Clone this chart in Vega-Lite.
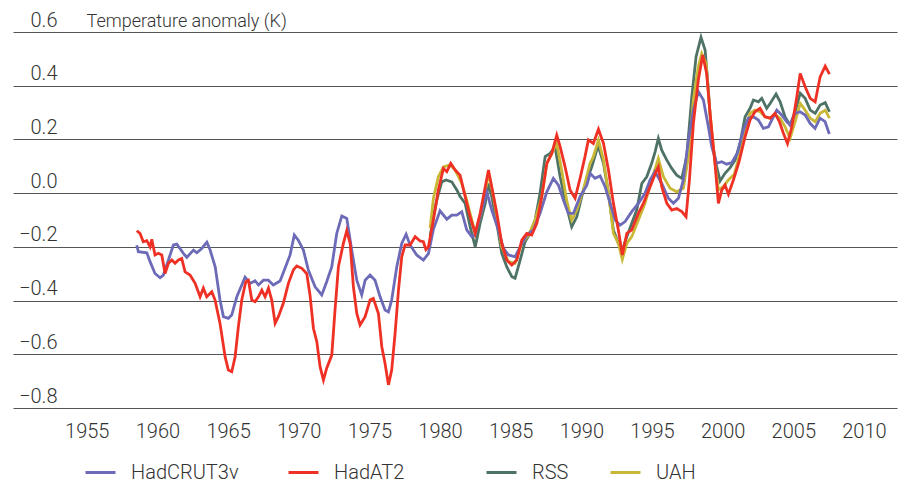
{
 "$schema": "https://vega.github.io/schema/vega-lite/v6.json",
 "width": 884, "height": 376,
 "autosize": {"type": "none"},
 "padding": {"left": 13, "top": 32, "right": 9, "bottom": 75},
 "background": "white",
 "config": {"view": {"stroke": null}, "font": "Roboto",
  "legend": {"orient": "none", "legendY": 424, "direction": "horizontal", "title": null,
    "symbolType": "stroke", "symbolSize": 900, "symbolStrokeWidth": 3, "labelFont": "Roboto", "labelFontSize": 20,
    "labelFontWeight": 300, "labelColor": "#333", "labelOffset": 14, "padding": 0}},
 "data": {"values": [
  {"series":"HadCRUT3v","year":1958.54,"anomaly":-0.194},{"series":"HadCRUT3v","year":1958.65,"anomaly":-0.218},{"series":"HadCRUT3v","year":1959.25,"anomaly":-0.222},{"series":"HadCRUT3v","year":1959.48,"anomaly":-0.255},{"series":"HadCRUT3v","year":1959.83,"anomaly":-0.299},{"series":"HadCRUT3v","year":1960.19,"anomaly":-0.315},{"series":"HadCRUT3v","year":1960.42,"anomaly":-0.305},{"series":"HadCRUT3v","year":1960.78,"anomaly":-0.249},{"series":"HadCRUT3v","year":1961.13,"anomaly":-0.193},{"series":"HadCRUT3v","year":1961.37,"anomaly":-0.19},{"series":"HadCRUT3v","year":1961.84,"anomaly":-0.224},{"series":"HadCRUT3v","year":1962.08,"anomaly":-0.239},{"series":"HadCRUT3v","year":1962.55,"anomaly":-0.212},{"series":"HadCRUT3v","year":1962.79,"anomaly":-0.222},{"series":"HadCRUT3v","year":1963.14,"anomaly":-0.206},{"series":"HadCRUT3v","year":1963.5,"anomaly":-0.183},{"series":"HadCRUT3v","year":1963.73,"anomaly":-0.212},{"series":"HadCRUT3v","year":1964.09,"anomaly":-0.274},{"series":"HadCRUT3v","year":1964.43,"anomaly":-0.398},{"series":"HadCRUT3v","year":1964.67,"anomaly":-0.46},{"series":"HadCRUT3v","year":1965.02,"anomaly":-0.466},{"series":"HadCRUT3v","year":1965.26,"anomaly":-0.454},{"series":"HadCRUT3v","year":1965.62,"anomaly":-0.386},{"series":"HadCRUT3v","year":1965.97,"anomaly":-0.342},{"series":"HadCRUT3v","year":1966.2,"anomaly":-0.313},{"series":"HadCRUT3v","year":1966.56,"anomaly":-0.336},{"series":"HadCRUT3v","year":1966.91,"anomaly":-0.326},{"series":"HadCRUT3v","year":1967.15,"anomaly":-0.342},{"series":"HadCRUT3v","year":1967.5,"anomaly":-0.324},{"series":"HadCRUT3v","year":1967.85,"anomaly":-0.324},{"series":"HadCRUT3v","year":1968.2,"anomaly":-0.342},{"series":"HadCRUT3v","year":1968.68,"anomaly":-0.327},{"series":"HadCRUT3v","year":1969.03,"anomaly":-0.28},{"series":"HadCRUT3v","year":1969.39,"anomaly":-0.23},{"series":"HadCRUT3v","year":1969.69,"anomaly":-0.156},{"series":"HadCRUT3v","year":1969.97,"anomaly":-0.175},{"series":"HadCRUT3v","year":1970.33,"anomaly":-0.212},{"series":"HadCRUT3v","year":1970.68,"anomaly":-0.286},{"series":"HadCRUT3v","year":1971.16,"anomaly":-0.349},{"series":"HadCRUT3v","year":1971.63,"anomaly":-0.379},{"series":"HadCRUT3v","year":1971.98,"anomaly":-0.33},{"series":"HadCRUT3v","year":1972.34,"anomaly":-0.274},{"series":"HadCRUT3v","year":1972.69,"anomaly":-0.15},{"series":"HadCRUT3v","year":1973.05,"anomaly":-0.085},{"series":"HadCRUT3v","year":1973.4,"anomaly":-0.094},{"series":"HadCRUT3v","year":1973.75,"anomaly":-0.212},{"series":"HadCRUT3v","year":1974.11,"anomaly":-0.324},{"series":"HadCRUT3v","year":1974.46,"anomaly":-0.379},{"series":"HadCRUT3v","year":1974.7,"anomaly":-0.324},{"series":"HadCRUT3v","year":1975.05,"anomaly":-0.305},{"series":"HadCRUT3v","year":1975.4,"anomaly":-0.324},{"series":"HadCRUT3v","year":1975.76,"anomaly":-0.386},{"series":"HadCRUT3v","year":1976.11,"anomaly":-0.435},{"series":"HadCRUT3v","year":1976.35,"anomaly":-0.442},{"series":"HadCRUT3v","year":1976.58,"anomaly":-0.398},{"series":"HadCRUT3v","year":1976.94,"anomaly":-0.274},{"series":"HadCRUT3v","year":1977.29,"anomaly":-0.187},{"series":"HadCRUT3v","year":1977.6,"anomaly":-0.153},{"series":"HadCRUT3v","year":1977.88,"anomaly":-0.193},{"series":"HadCRUT3v","year":1978.35,"anomaly":-0.23},{"series":"HadCRUT3v","year":1978.82,"anomaly":-0.249},{"series":"HadCRUT3v","year":1979.18,"anomaly":-0.225},{"series":"HadCRUT3v","year":1979.53,"anomaly":-0.135},{"series":"HadCRUT3v","year":1980.0,"anomaly":-0.066},{"series":"HadCRUT3v","year":1980.48,"anomaly":-0.097},{"series":"HadCRUT3v","year":1980.83,"anomaly":-0.082},{"series":"HadCRUT3v","year":1981.19,"anomaly":-0.082},{"series":"HadCRUT3v","year":1981.54,"anomaly":-0.069},{"series":"HadCRUT3v","year":1981.89,"anomaly":-0.137},{"series":"HadCRUT3v","year":1982.25,"anomaly":-0.162},{"series":"HadCRUT3v","year":1982.48,"anomaly":-0.156},{"series":"HadCRUT3v","year":1982.96,"anomaly":-0.063},{"series":"HadCRUT3v","year":1983.31,"anomaly":0.005},{"series":"HadCRUT3v","year":1983.66,"anomaly":-0.063},{"series":"HadCRUT3v","year":1984.13,"anomaly":-0.137},{"series":"HadCRUT3v","year":1984.49,"anomaly":-0.206},{"series":"HadCRUT3v","year":1984.84,"anomaly":-0.23},{"series":"HadCRUT3v","year":1985.31,"anomaly":-0.237},{"series":"HadCRUT3v","year":1985.67,"anomaly":-0.2},{"series":"HadCRUT3v","year":1986.14,"anomaly":-0.156},{"series":"HadCRUT3v","year":1986.61,"anomaly":-0.137},{"series":"HadCRUT3v","year":1987.08,"anomaly":-0.075},{"series":"HadCRUT3v","year":1987.56,"anomaly":0.005},{"series":"HadCRUT3v","year":1988.02,"anomaly":0.055},{"series":"HadCRUT3v","year":1988.38,"anomaly":0.03},{"series":"HadCRUT3v","year":1988.73,"anomaly":-0.026},{"series":"HadCRUT3v","year":1989.08,"anomaly":-0.075},{"series":"HadCRUT3v","year":1989.44,"anomaly":-0.075},{"series":"HadCRUT3v","year":1989.91,"anomaly":-0.013},{"series":"HadCRUT3v","year":1990.39,"anomaly":0.03},{"series":"HadCRUT3v","year":1990.62,"anomaly":0.074},{"series":"HadCRUT3v","year":1990.97,"anomaly":0.055},{"series":"HadCRUT3v","year":1991.33,"anomaly":0.064},{"series":"HadCRUT3v","year":1991.68,"anomaly":0.024},{"series":"HadCRUT3v","year":1992.04,"anomaly":-0.038},{"series":"HadCRUT3v","year":1992.39,"anomaly":-0.1},{"series":"HadCRUT3v","year":1992.74,"anomaly":-0.119},{"series":"HadCRUT3v","year":1993.1,"anomaly":-0.106},{"series":"HadCRUT3v","year":1993.57,"anomaly":-0.069},{"series":"HadCRUT3v","year":1994.04,"anomaly":-0.038},{"series":"HadCRUT3v","year":1994.51,"anomaly":0.0},{"series":"HadCRUT3v","year":1994.87,"anomaly":0.049},{"series":"HadCRUT3v","year":1995.22,"anomaly":0.08},{"series":"HadCRUT3v","year":1995.69,"anomaly":0.036},{"series":"HadCRUT3v","year":1996.16,"anomaly":-0.019},{"series":"HadCRUT3v","year":1996.52,"anomaly":-0.038},{"series":"HadCRUT3v","year":1996.87,"anomaly":-0.019},{"series":"HadCRUT3v","year":1997.22,"anomaly":0.049},{"series":"HadCRUT3v","year":1997.58,"anomaly":0.198},{"series":"HadCRUT3v","year":1997.93,"anomaly":0.309},{"series":"HadCRUT3v","year":1998.28,"anomaly":0.378},{"series":"HadCRUT3v","year":1998.64,"anomaly":0.347},{"series":"HadCRUT3v","year":1998.99,"anomaly":0.247},{"series":"HadCRUT3v","year":1999.23,"anomaly":0.173},{"series":"HadCRUT3v","year":1999.58,"anomaly":0.111},{"series":"HadCRUT3v","year":1999.94,"anomaly":0.117},{"series":"HadCRUT3v","year":2000.29,"anomaly":0.108},{"series":"HadCRUT3v","year":2000.65,"anomaly":0.114},{"series":"HadCRUT3v","year":2001.05,"anomaly":0.15},{"series":"HadCRUT3v","year":2001.47,"anomaly":0.235},{"series":"HadCRUT3v","year":2001.82,"anomaly":0.279},{"series":"HadCRUT3v","year":2002.18,"anomaly":0.284},{"series":"HadCRUT3v","year":2002.53,"anomaly":0.272},{"series":"HadCRUT3v","year":2002.88,"anomaly":0.241},{"series":"HadCRUT3v","year":2003.24,"anomaly":0.247},{"series":"HadCRUT3v","year":2003.59,"anomaly":0.284},{"series":"HadCRUT3v","year":2003.83,"anomaly":0.309},{"series":"HadCRUT3v","year":2004.18,"anomaly":0.291},{"series":"HadCRUT3v","year":2004.54,"anomaly":0.266},{"series":"HadCRUT3v","year":2004.77,"anomaly":0.254},{"series":"HadCRUT3v","year":2005.13,"anomaly":0.297},{"series":"HadCRUT3v","year":2005.48,"anomaly":0.303},{"series":"HadCRUT3v","year":2005.84,"anomaly":0.291},{"series":"HadCRUT3v","year":2006.19,"anomaly":0.26},{"series":"HadCRUT3v","year":2006.54,"anomaly":0.241},{"series":"HadCRUT3v","year":2006.9,"anomaly":0.279},{"series":"HadCRUT3v","year":2007.25,"anomaly":0.266},{"series":"HadCRUT3v","year":2007.55,"anomaly":0.22},
  {"series":"HadAT2","year":1958.54,"anomaly":-0.14},{"series":"HadAT2","year":1958.77,"anomaly":-0.15},{"series":"HadAT2","year":1959.0,"anomaly":-0.181},{"series":"HadAT2","year":1959.25,"anomaly":-0.177},{"series":"HadAT2","year":1959.48,"anomaly":-0.2},{"series":"HadAT2","year":1959.6,"anomaly":-0.172},{"series":"HadAT2","year":1959.83,"anomaly":-0.23},{"series":"HadAT2","year":1960.07,"anomaly":-0.224},{"series":"HadAT2","year":1960.31,"anomaly":-0.23},{"series":"HadAT2","year":1960.54,"anomaly":-0.299},{"series":"HadAT2","year":1960.78,"anomaly":-0.261},{"series":"HadAT2","year":1961.02,"anomaly":-0.249},{"series":"HadAT2","year":1961.25,"anomaly":-0.261},{"series":"HadAT2","year":1961.49,"anomaly":-0.249},{"series":"HadAT2","year":1961.72,"anomaly":-0.243},{"series":"HadAT2","year":1961.96,"anomaly":-0.293},{"series":"HadAT2","year":1962.31,"anomaly":-0.305},{"series":"HadAT2","year":1962.67,"anomaly":-0.336},{"series":"HadAT2","year":1963.02,"anomaly":-0.386},{"series":"HadAT2","year":1963.25,"anomaly":-0.354},{"series":"HadAT2","year":1963.49,"anomaly":-0.386},{"series":"HadAT2","year":1963.85,"anomaly":-0.367},{"series":"HadAT2","year":1964.08,"anomaly":-0.398},{"series":"HadAT2","year":1964.43,"anomaly":-0.485},{"series":"HadAT2","year":1964.79,"anomaly":-0.609},{"series":"HadAT2","year":1965.02,"anomaly":-0.659},{"series":"HadAT2","year":1965.26,"anomaly":-0.665},{"series":"HadAT2","year":1965.5,"anomaly":-0.609},{"series":"HadAT2","year":1965.73,"anomaly":-0.497},{"series":"HadAT2","year":1965.97,"anomaly":-0.398},{"series":"HadAT2","year":1966.25,"anomaly":-0.33},{"series":"HadAT2","year":1966.44,"anomaly":-0.324},{"series":"HadAT2","year":1966.68,"anomaly":-0.398},{"series":"HadAT2","year":1966.91,"anomaly":-0.404},{"series":"HadAT2","year":1967.15,"anomaly":-0.386},{"series":"HadAT2","year":1967.39,"anomaly":-0.361},{"series":"HadAT2","year":1967.62,"anomaly":-0.386},{"series":"HadAT2","year":1967.86,"anomaly":-0.354},{"series":"HadAT2","year":1968.09,"anomaly":-0.398},{"series":"HadAT2","year":1968.33,"anomaly":-0.485},{"series":"HadAT2","year":1968.56,"anomaly":-0.46},{"series":"HadAT2","year":1968.91,"anomaly":-0.41},{"series":"HadAT2","year":1969.27,"anomaly":-0.336},{"series":"HadAT2","year":1969.62,"anomaly":-0.286},{"series":"HadAT2","year":1969.86,"anomaly":-0.271},{"series":"HadAT2","year":1970.22,"anomaly":-0.28},{"series":"HadAT2","year":1970.57,"anomaly":-0.3},{"series":"HadAT2","year":1970.8,"anomaly":-0.38},{"series":"HadAT2","year":1971.04,"anomaly":-0.503},{"series":"HadAT2","year":1971.28,"anomaly":-0.553},{"series":"HadAT2","year":1971.51,"anomaly":-0.646},{"series":"HadAT2","year":1971.75,"anomaly":-0.696},{"series":"HadAT2","year":1971.98,"anomaly":-0.652},{"series":"HadAT2","year":1972.34,"anomaly":-0.603},{"series":"HadAT2","year":1972.57,"anomaly":-0.435},{"series":"HadAT2","year":1972.81,"anomaly":-0.274},{"series":"HadAT2","year":1973.16,"anomaly":-0.187},{"series":"HadAT2","year":1973.4,"anomaly":-0.14},{"series":"HadAT2","year":1973.64,"anomaly":-0.187},{"series":"HadAT2","year":1973.87,"anomaly":-0.349},{"series":"HadAT2","year":1974.11,"anomaly":-0.448},{"series":"HadAT2","year":1974.34,"anomaly":-0.491},{"series":"HadAT2","year":1974.7,"anomaly":-0.46},{"series":"HadAT2","year":1975.05,"anomaly":-0.398},{"series":"HadAT2","year":1975.28,"anomaly":-0.392},{"series":"HadAT2","year":1975.64,"anomaly":-0.448},{"series":"HadAT2","year":1975.88,"anomaly":-0.572},{"series":"HadAT2","year":1976.11,"anomaly":-0.634},{"series":"HadAT2","year":1976.35,"anomaly":-0.714},{"series":"HadAT2","year":1976.58,"anomaly":-0.659},{"series":"HadAT2","year":1976.82,"anomaly":-0.522},{"series":"HadAT2","year":1977.06,"anomaly":-0.361},{"series":"HadAT2","year":1977.29,"anomaly":-0.237},{"series":"HadAT2","year":1977.53,"anomaly":-0.193},{"series":"HadAT2","year":1977.88,"anomaly":-0.193},{"series":"HadAT2","year":1978.24,"anomaly":-0.162},{"series":"HadAT2","year":1978.59,"anomaly":-0.178},{"series":"HadAT2","year":1978.82,"anomaly":-0.181},{"series":"HadAT2","year":1979.0,"anomaly":-0.21},{"series":"HadAT2","year":1979.18,"anomaly":-0.2},{"series":"HadAT2","year":1979.53,"anomaly":-0.1},{"series":"HadAT2","year":1979.88,"anomaly":0.012},{"series":"HadAT2","year":1980.24,"anomaly":0.092},{"series":"HadAT2","year":1980.48,"anomaly":0.08},{"series":"HadAT2","year":1980.76,"anomaly":0.111},{"series":"HadAT2","year":1981.07,"anomaly":0.086},{"series":"HadAT2","year":1981.42,"anomaly":0.067},{"series":"HadAT2","year":1981.78,"anomaly":-0.013},{"series":"HadAT2","year":1982.13,"anomaly":-0.088},{"series":"HadAT2","year":1982.49,"anomaly":-0.15},{"series":"HadAT2","year":1982.84,"anomaly":-0.075},{"series":"HadAT2","year":1983.2,"anomaly":0.024},{"series":"HadAT2","year":1983.43,"anomaly":0.086},{"series":"HadAT2","year":1983.66,"anomaly":0.024},{"series":"HadAT2","year":1984.02,"anomaly":-0.075},{"series":"HadAT2","year":1984.37,"anomaly":-0.187},{"series":"HadAT2","year":1984.72,"anomaly":-0.249},{"series":"HadAT2","year":1985.08,"anomaly":-0.268},{"series":"HadAT2","year":1985.43,"anomaly":-0.249},{"series":"HadAT2","year":1985.79,"anomaly":-0.175},{"series":"HadAT2","year":1986.14,"anomaly":-0.15},{"series":"HadAT2","year":1986.49,"anomaly":-0.156},{"series":"HadAT2","year":1986.85,"anomaly":-0.112},{"series":"HadAT2","year":1987.2,"anomaly":-0.013},{"series":"HadAT2","year":1987.56,"anomaly":0.111},{"series":"HadAT2","year":1987.91,"anomaly":0.148},{"series":"HadAT2","year":1988.26,"anomaly":0.216},{"series":"HadAT2","year":1988.5,"anomaly":0.173},{"series":"HadAT2","year":1988.85,"anomaly":0.098},{"series":"HadAT2","year":1989.2,"anomaly":0.012},{"series":"HadAT2","year":1989.56,"anomaly":-0.019},{"series":"HadAT2","year":1989.91,"anomaly":0.055},{"series":"HadAT2","year":1990.26,"anomaly":0.136},{"series":"HadAT2","year":1990.5,"anomaly":0.198},{"series":"HadAT2","year":1990.85,"anomaly":0.185},{"series":"HadAT2","year":1991.21,"anomaly":0.238},{"series":"HadAT2","year":1991.57,"anomaly":0.185},{"series":"HadAT2","year":1991.92,"anomaly":0.086},{"series":"HadAT2","year":1992.27,"anomaly":-0.038},{"series":"HadAT2","year":1992.62,"anomaly":-0.137},{"series":"HadAT2","year":1992.9,"anomaly":-0.23},{"series":"HadAT2","year":1993.22,"anomaly":-0.15},{"series":"HadAT2","year":1993.57,"anomaly":-0.137},{"series":"HadAT2","year":1994.04,"anomaly":-0.075},{"series":"HadAT2","year":1994.39,"anomaly":-0.038},{"series":"HadAT2","year":1994.87,"anomaly":0.024},{"series":"HadAT2","year":1995.34,"anomaly":0.086},{"series":"HadAT2","year":1995.45,"anomaly":0.098},{"series":"HadAT2","year":1995.69,"anomaly":0.024},{"series":"HadAT2","year":1996.05,"anomaly":-0.038},{"series":"HadAT2","year":1996.4,"anomaly":-0.063},{"series":"HadAT2","year":1996.75,"anomaly":-0.057},{"series":"HadAT2","year":1997.11,"anomaly":-0.069},{"series":"HadAT2","year":1997.41,"anomaly":-0.088},{"series":"HadAT2","year":1997.65,"anomaly":0.049},{"series":"HadAT2","year":1997.93,"anomaly":0.26},{"series":"HadAT2","year":1998.28,"anomaly":0.421},{"series":"HadAT2","year":1998.59,"anomaly":0.514},{"series":"HadAT2","year":1998.87,"anomaly":0.446},{"series":"HadAT2","year":1999.11,"anomaly":0.297},{"series":"HadAT2","year":1999.46,"anomaly":0.111},{"series":"HadAT2","year":1999.7,"anomaly":-0.038},{"series":"HadAT2","year":1999.94,"anomaly":0.012},{"series":"HadAT2","year":2000.17,"anomaly":0.03},{"series":"HadAT2","year":2000.41,"anomaly":-0.004},{"series":"HadAT2","year":2000.76,"anomaly":0.049},{"series":"HadAT2","year":2001.15,"anomaly":0.115},{"series":"HadAT2","year":2001.59,"anomaly":0.21},{"series":"HadAT2","year":2001.94,"anomaly":0.272},{"series":"HadAT2","year":2002.29,"anomaly":0.303},{"series":"HadAT2","year":2002.65,"anomaly":0.316},{"series":"HadAT2","year":2003.0,"anomaly":0.284},{"series":"HadAT2","year":2003.36,"anomaly":0.279},{"series":"HadAT2","year":2003.71,"anomaly":0.297},{"series":"HadAT2","year":2004.02,"anomaly":0.266},{"series":"HadAT2","year":2004.3,"anomaly":0.223},{"series":"HadAT2","year":2004.59,"anomaly":0.185},{"series":"HadAT2","year":2004.9,"anomaly":0.247},{"series":"HadAT2","year":2005.25,"anomaly":0.359},{"series":"HadAT2","year":2005.49,"anomaly":0.446},{"series":"HadAT2","year":2005.84,"anomaly":0.396},{"series":"HadAT2","year":2006.2,"anomaly":0.353},{"series":"HadAT2","year":2006.55,"anomaly":0.34},{"series":"HadAT2","year":2006.9,"anomaly":0.433},{"series":"HadAT2","year":2007.26,"anomaly":0.473},{"series":"HadAT2","year":2007.56,"anomaly":0.443},
  {"series":"RSS","year":1979.3,"anomaly":-0.16},{"series":"RSS","year":1979.53,"anomaly":-0.09},{"series":"RSS","year":1979.77,"anomaly":-0.026},{"series":"RSS","year":1980.12,"anomaly":0.042},{"series":"RSS","year":1980.43,"anomaly":0.049},{"series":"RSS","year":1980.83,"anomaly":0.042},{"series":"RSS","year":1981.19,"anomaly":0.012},{"series":"RSS","year":1981.42,"anomaly":-0.013},{"series":"RSS","year":1981.78,"anomaly":-0.038},{"series":"RSS","year":1982.13,"anomaly":-0.125},{"series":"RSS","year":1982.49,"anomaly":-0.2},{"series":"RSS","year":1982.84,"anomaly":-0.112},{"series":"RSS","year":1983.2,"anomaly":-0.038},{"series":"RSS","year":1983.43,"anomaly":0.036},{"series":"RSS","year":1983.66,"anomaly":-0.013},{"series":"RSS","year":1984.02,"anomaly":-0.112},{"series":"RSS","year":1984.37,"anomaly":-0.224},{"series":"RSS","year":1984.72,"anomaly":-0.274},{"series":"RSS","year":1985.08,"anomaly":-0.311},{"series":"RSS","year":1985.31,"anomaly":-0.317},{"series":"RSS","year":1985.67,"anomaly":-0.249},{"series":"RSS","year":1986.02,"anomaly":-0.181},{"series":"RSS","year":1986.37,"anomaly":-0.15},{"series":"RSS","year":1986.73,"anomaly":-0.1},{"series":"RSS","year":1987.08,"anomaly":0.0},{"series":"RSS","year":1987.44,"anomaly":0.136},{"series":"RSS","year":1987.79,"anomaly":0.148},{"series":"RSS","year":1988.14,"anomaly":0.173},{"series":"RSS","year":1988.5,"anomaly":0.061},{"series":"RSS","year":1988.85,"anomaly":-0.026},{"series":"RSS","year":1989.32,"anomaly":-0.125},{"series":"RSS","year":1989.68,"anomaly":-0.088},{"series":"RSS","year":1990.03,"anomaly":-0.013},{"series":"RSS","year":1990.39,"anomaly":0.049},{"series":"RSS","year":1990.74,"anomaly":0.098},{"series":"RSS","year":1991.09,"anomaly":0.16},{"series":"RSS","year":1991.21,"anomaly":0.173},{"series":"RSS","year":1991.57,"anomaly":0.111},{"series":"RSS","year":1991.92,"anomaly":0.0},{"series":"RSS","year":1992.27,"anomaly":-0.137},{"series":"RSS","year":1992.62,"anomaly":-0.187},{"series":"RSS","year":1992.9,"anomaly":-0.212},{"series":"RSS","year":1993.22,"anomaly":-0.162},{"series":"RSS","year":1993.57,"anomaly":-0.112},{"series":"RSS","year":1993.92,"anomaly":-0.063},{"series":"RSS","year":1994.28,"anomaly":0.036},{"series":"RSS","year":1994.63,"anomaly":0.061},{"series":"RSS","year":1994.98,"anomaly":0.111},{"series":"RSS","year":1995.22,"anomaly":0.154},{"series":"RSS","year":1995.45,"anomaly":0.204},{"series":"RSS","year":1995.69,"anomaly":0.16},{"series":"RSS","year":1996.05,"anomaly":0.123},{"series":"RSS","year":1996.4,"anomaly":0.092},{"series":"RSS","year":1996.75,"anomaly":0.067},{"series":"RSS","year":1997.11,"anomaly":0.055},{"series":"RSS","year":1997.46,"anomaly":0.136},{"series":"RSS","year":1997.82,"anomaly":0.359},{"series":"RSS","year":1998.12,"anomaly":0.508},{"series":"RSS","year":1998.47,"anomaly":0.58},{"series":"RSS","year":1998.76,"anomaly":0.533},{"series":"RSS","year":1998.99,"anomaly":0.384},{"series":"RSS","year":1999.23,"anomaly":0.198},{"series":"RSS","year":1999.58,"anomaly":0.098},{"series":"RSS","year":1999.82,"anomaly":0.045},{"series":"RSS","year":2000.17,"anomaly":0.074},{"series":"RSS","year":2000.53,"anomaly":0.095},{"series":"RSS","year":2000.88,"anomaly":0.123},{"series":"RSS","year":2001.23,"anomaly":0.185},{"series":"RSS","year":2001.59,"anomaly":0.284},{"series":"RSS","year":2001.94,"anomaly":0.316},{"series":"RSS","year":2002.18,"anomaly":0.347},{"series":"RSS","year":2002.53,"anomaly":0.34},{"series":"RSS","year":2002.77,"anomaly":0.353},{"series":"RSS","year":2003.12,"anomaly":0.316},{"series":"RSS","year":2003.36,"anomaly":0.334},{"series":"RSS","year":2003.78,"anomaly":0.369},{"series":"RSS","year":2004.07,"anomaly":0.34},{"series":"RSS","year":2004.42,"anomaly":0.284},{"series":"RSS","year":2004.77,"anomaly":0.254},{"series":"RSS","year":2005.13,"anomaly":0.303},{"series":"RSS","year":2005.49,"anomaly":0.372},{"series":"RSS","year":2005.84,"anomaly":0.353},{"series":"RSS","year":2006.2,"anomaly":0.309},{"series":"RSS","year":2006.55,"anomaly":0.297},{"series":"RSS","year":2006.9,"anomaly":0.328},{"series":"RSS","year":2007.26,"anomaly":0.337},{"series":"RSS","year":2007.56,"anomaly":0.303},
  {"series":"UAH","year":1979.3,"anomaly":-0.13},{"series":"UAH","year":1979.53,"anomaly":-0.02},{"series":"UAH","year":1979.88,"anomaly":0.061},{"series":"UAH","year":1980.24,"anomaly":0.098},{"series":"UAH","year":1980.71,"anomaly":0.105},{"series":"UAH","year":1981.07,"anomaly":0.086},{"series":"UAH","year":1981.54,"anomaly":0.036},{"series":"UAH","year":1981.89,"anomaly":-0.026},{"series":"UAH","year":1982.49,"anomaly":-0.15},{"series":"UAH","year":1982.96,"anomaly":-0.063},{"series":"UAH","year":1983.43,"anomaly":0.074},{"series":"UAH","year":1983.78,"anomaly":-0.013},{"series":"UAH","year":1984.37,"anomaly":-0.2},{"series":"UAH","year":1984.84,"anomaly":-0.255},{"series":"UAH","year":1985.31,"anomaly":-0.261},{"series":"UAH","year":1985.79,"anomaly":-0.187},{"series":"UAH","year":1986.26,"anomaly":-0.156},{"series":"UAH","year":1986.73,"anomaly":-0.1},{"series":"UAH","year":1987.2,"anomaly":-0.013},{"series":"UAH","year":1987.56,"anomaly":0.111},{"series":"UAH","year":1988.02,"anomaly":0.16},{"series":"UAH","year":1988.26,"anomaly":0.185},{"series":"UAH","year":1988.61,"anomaly":0.086},{"series":"UAH","year":1988.96,"anomaly":-0.026},{"series":"UAH","year":1989.32,"anomaly":-0.1},{"series":"UAH","year":1989.68,"anomaly":-0.063},{"series":"UAH","year":1990.14,"anomaly":0.012},{"series":"UAH","year":1990.62,"anomaly":0.111},{"series":"UAH","year":1990.85,"anomaly":0.136},{"series":"UAH","year":1991.21,"anomaly":0.198},{"series":"UAH","year":1991.57,"anomaly":0.123},{"series":"UAH","year":1991.92,"anomaly":0.0},{"series":"UAH","year":1992.27,"anomaly":-0.15},{"series":"UAH","year":1992.62,"anomaly":-0.187},{"series":"UAH","year":1992.9,"anomaly":-0.247},{"series":"UAH","year":1993.22,"anomaly":-0.187},{"series":"UAH","year":1993.57,"anomaly":-0.162},{"series":"UAH","year":1994.04,"anomaly":-0.1},{"series":"UAH","year":1994.51,"anomaly":-0.038},{"series":"UAH","year":1994.98,"anomaly":0.049},{"series":"UAH","year":1995.45,"anomaly":0.129},{"series":"UAH","year":1995.81,"anomaly":0.061},{"series":"UAH","year":1996.28,"anomaly":0.018},{"series":"UAH","year":1996.75,"anomaly":0.005},{"series":"UAH","year":1997.22,"anomaly":0.018},{"series":"UAH","year":1997.58,"anomaly":0.136},{"series":"UAH","year":1997.93,"anomaly":0.347},{"series":"UAH","year":1998.28,"anomaly":0.471},{"series":"UAH","year":1998.52,"anomaly":0.52},{"series":"UAH","year":1998.83,"anomaly":0.483},{"series":"UAH","year":1999.11,"anomaly":0.297},{"series":"UAH","year":1999.46,"anomaly":0.111},{"series":"UAH","year":1999.7,"anomaly":0.012},{"series":"UAH","year":2000.05,"anomaly":0.024},{"series":"UAH","year":2000.41,"anomaly":0.049},{"series":"UAH","year":2000.82,"anomaly":0.07},{"series":"UAH","year":2001.23,"anomaly":0.148},{"series":"UAH","year":2001.59,"anomaly":0.235},{"series":"UAH","year":2001.94,"anomaly":0.297},{"series":"UAH","year":2002.29,"anomaly":0.309},{"series":"UAH","year":2002.65,"anomaly":0.303},{"series":"UAH","year":2003.0,"anomaly":0.284},{"series":"UAH","year":2003.36,"anomaly":0.279},{"series":"UAH","year":2003.71,"anomaly":0.291},{"series":"UAH","year":2004.07,"anomaly":0.279},{"series":"UAH","year":2004.42,"anomaly":0.247},{"series":"UAH","year":2004.77,"anomaly":0.204},{"series":"UAH","year":2005.13,"anomaly":0.266},{"series":"UAH","year":2005.49,"anomaly":0.334},{"series":"UAH","year":2005.84,"anomaly":0.309},{"series":"UAH","year":2006.2,"anomaly":0.279},{"series":"UAH","year":2006.55,"anomaly":0.266},{"series":"UAH","year":2006.9,"anomaly":0.297},{"series":"UAH","year":2007.26,"anomaly":0.309},{"series":"UAH","year":2007.56,"anomaly":0.279}
 ]},
 "encoding": {
  "x": {"field": "year", "type": "quantitative",
   "scale": {"domain": [1949.78, 2012.34], "nice": false, "zero": false},
   "axis": {"title": null, "values": [1955,1960,1965,1970,1975,1980,1985,1990,1995,2000,2005,2010], "format": "d",
    "grid": false, "domain": false, "ticks": false, "tickSize": 0, "labelPadding": 13,
    "labelFont": "Roboto", "labelFontSize": 20, "labelFontWeight": 300, "labelColor": "#333"}},
  "y": {"field": "anomaly", "type": "quantitative",
   "scale": {"domain": [-0.8, 0.6], "nice": false, "zero": false},
   "axis": {"values": [-0.8,-0.6,-0.4,-0.2,0,0.2,0.4,0.6], "format": ".1f",
    "grid": true, "gridColor": "#555", "gridWidth": 1.2, "domain": false, "ticks": false, "tickSize": 0,
    "labelAlign": "right", "labelPadding": -44, "labelBaseline": "alphabetic", "labelOffset": -6,
    "labelFont": "Roboto", "labelFontSize": 20, "labelFontWeight": 300, "labelColor": "#333",
    "title": "Temperature anomaly (K)", "titleAngle": 0, "titleAlign": "left", "titleBaseline": "alphabetic",
    "titleX": 73, "titleY": -6, "titleFont": "Roboto", "titleFontSize": 18, "titleFontWeight": 300, "titleColor": "#333"}}
 },
 "resolve": {"scale": {"color": "independent"}, "legend": {"color": "independent"}},
 "layer": [
  {"transform": [{"filter": "datum.series === 'RSS'"}], "mark": {"type": "line", "strokeWidth": 2.8},
   "encoding": {"color": {"field": "series", "type": "nominal", "scale": {"domain": ["RSS"], "range": ["#4e7266"]}, "legend": {"legendX": 472}}}},
  {"transform": [{"filter": "datum.series === 'UAH'"}], "mark": {"type": "line", "strokeWidth": 2.8},
   "encoding": {"color": {"field": "series", "type": "nominal", "scale": {"domain": ["UAH"], "range": ["#c9b836"]}, "legend": {"legendX": 596}}}},
  {"transform": [{"filter": "datum.series === 'HadCRUT3v'"}], "mark": {"type": "line", "strokeWidth": 2.8},
   "encoding": {"color": {"field": "series", "type": "nominal", "scale": {"domain": ["HadCRUT3v"], "range": ["#6d6ab8"]}, "legend": {"legendX": 71}}}},
  {"transform": [{"filter": "datum.series === 'HadAT2'"}], "mark": {"type": "line", "strokeWidth": 2.8},
   "encoding": {"color": {"field": "series", "type": "nominal", "scale": {"domain": ["HadAT2"], "range": ["#ee3124"]}, "legend": {"legendX": 274}}}}
 ]
}
